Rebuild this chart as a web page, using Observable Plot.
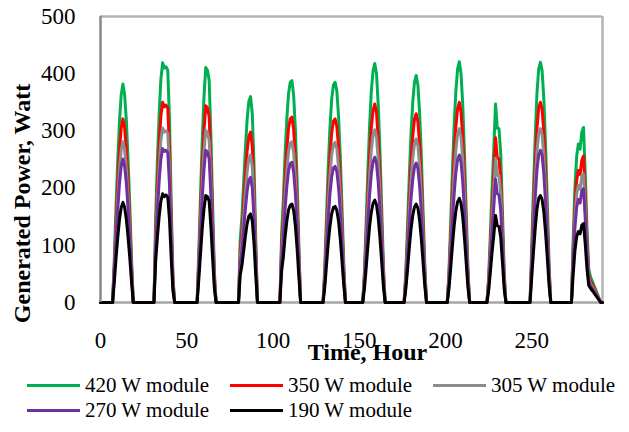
<!DOCTYPE html>
<html><head><meta charset="utf-8">
<script src="https://cdn.jsdelivr.net/npm/d3@7"></script>
<script src="https://cdn.jsdelivr.net/npm/@observablehq/plot@0.6"></script>
<style>
body{margin:0;background:#fff;}
#chart{width:629px;height:432px;position:relative;font-family:'Liberation Serif','Times New Roman',serif;background:#fff;}
#legend{position:relative;width:629px;height:70px;}
.item{position:absolute;display:flex;align-items:center;height:26px;font-size:21px;color:#000;white-space:nowrap;font-family:'Liberation Serif','Times New Roman',serif;}
.sw{width:53px;height:3px;margin-right:5px;}
</style></head>
<body><div id="chart"></div>
<script>
const seriesNames = ["420 W module","350 W module","305 W module","270 W module","190 W module"];
const seriesColors = ["#00b050","#ff0000","#8c8c8c","#7030a0","#000000"];
const xTicks = [0,50,100,150,200,250];
const yTicks = [0,100,200,300,400,500];
const firstHour = 0, lastHour = 291;
// hour of the zero before sunrise and the zero after sunset, per day
const dayStart = [7,31,56,80,104,129,152,176,201,224,249,273];
const dayEnd   = [19,43,67,91,116,142,165,189,214,235,261,290];

const w420 = [
 [76,168,248,317,363,382,363,317,248,168,76],
 [150,250,330,390,419,410,412,406,320,170,45],
 [90,190,285,360,411,406,388,290,170,55],
 [110,150,210,270,320,352,360,330,240,110],
 [120,180,260,320,365,385,388,360,300,210,100],
 [60,150,235,305,355,380,385,370,325,255,165,70],
 [55,140,230,310,370,405,418,400,345,265,165,65],
 [55,135,220,295,350,385,397,380,330,255,160,65],
 [55,140,230,310,370,408,421,400,345,260,160,60],
 [45,120,200,270,347,305,304,260,160,55],
 [100,200,290,365,408,420,405,355,275,175,70],
 [110,200,255,277,268,298,306,225,130,60,45,38]
];
const w350 = [
 [64,141,209,266,305,321,305,266,209,141,64],
 [125,209,276,326,350,342,345,340,268,142,38],
 [75,159,239,301,344,340,325,243,142,46],
 [91,124,174,224,265,291,298,273,199,91],
 [100,150,217,267,305,321,324,301,250,175,84],
 [50,125,196,254,296,317,321,308,271,213,138,58],
 [46,116,191,257,307,336,347,332,286,220,137,54],
 [46,112,183,245,291,320,330,316,274,212,133,54],
 [46,116,191,258,308,339,350,333,287,216,133,50],
 [37,100,166,224,288,253,251,215,132,45],
 [83,167,242,304,340,350,338,296,229,146,58],
 [92,167,213,231,224,249,256,188,109,50,38,32]
];
const w305 = [
 [56,124,183,233,267,281,267,233,183,124,56],
 [109,182,240,284,305,298,300,296,233,124,33],
 [66,139,209,264,301,297,284,212,124,40],
 [79,108,150,193,229,252,258,236,172,79],
 [87,130,188,232,264,279,281,261,217,152,72],
 [44,109,171,222,258,276,280,269,236,185,120,51],
 [40,101,166,224,267,293,302,289,249,191,119,47],
 [40,97,158,213,252,277,286,274,238,184,115,47],
 [40,101,166,224,267,295,304,289,249,188,116,43],
 [33,88,146,197,252,222,222,190,117,40],
 [72,145,210,264,295,304,293,257,199,127,51],
 [81,148,189,205,198,220,225,166,96,44,33,28]
];
const w270 = [
 [50,110,163,208,238,251,238,208,163,110,50],
 [96,160,212,250,269,264,266,262,206,109,29],
 [58,123,184,233,266,263,251,188,110,36],
 [67,91,128,164,195,214,219,200,146,67],
 [76,114,164,202,230,243,245,227,189,133,63],
 [37,93,145,189,219,235,238,229,201,158,102,43],
 [33,85,140,188,225,246,254,243,210,161,100,40],
 [34,83,135,181,215,237,244,234,203,157,98,40],
 [34,86,141,190,227,250,258,245,211,159,98,37],
 [28,75,124,168,216,190,188,161,99,34],
 [63,127,184,231,258,266,257,225,174,111,44],
 [71,130,166,180,174,195,199,147,85,39,29,25]
];
const w190 = [
 [35,77,114,145,166,175,166,145,114,77,35],
 [73,115,150,177,190,185,188,184,145,77,20],
 [41,86,130,164,187,185,177,132,77,25],
 [48,65,90,116,138,151,155,142,103,47],
 [55,80,115,142,162,170,172,160,133,93,44],
 [26,65,103,133,155,166,168,161,142,111,72,31],
 [24,60,99,133,158,173,179,171,148,113,71,28],
 [24,58,95,128,152,167,172,165,143,110,69,28],
 [24,60,99,134,160,176,182,173,149,112,69,26],
 [20,53,88,118,152,134,133,114,70,24],
 [45,89,129,163,182,187,180,158,122,78,31],
 [49,90,115,124,120,135,138,102,59,30,25,21]
];
const seriesValues = [w420, w350, w305, w270, w190];

function build(name, days) {
  const rows = [{x: firstHour, y: 0, s: name}];
  days.forEach((vals, d) => {
    rows.push({x: dayStart[d], y: 0, s: name});
    vals.forEach((v, i) => rows.push({x: dayStart[d] + 1 + i, y: v, s: name}));
    rows.push({x: dayEnd[d], y: 0, s: name});
  });
  rows.push({x: lastHour, y: 0, s: name});
  return rows;
}

const lineMarks = seriesNames.map((name, k) =>
  Plot.line(build(name, seriesValues[k]), {x: "x", y: "y", stroke: seriesColors[k], strokeWidth: 3, strokeLinejoin: "round"})
);

const chart = Plot.plot({
  width: 629, height: 362,
  marginLeft: 100, marginRight: 27, marginTop: 16, marginBottom: 60,
  style: {fontFamily: "'Liberation Serif','Times New Roman',serif", fontSize: "23px", color: "#000", background: "#fff", overflow: "visible"},
  x: {domain: [firstHour, lastHour], ticks: xTicks, tickSize: 0, tickPadding: 29, label: null},
  y: {domain: [0, 500], ticks: yTicks, tickSize: 0, tickPadding: 25, label: null},
  marks: [
    Plot.ruleY([500], {stroke: "#b4b4b4", strokeWidth: 2.5}),
    Plot.ruleX([lastHour], {stroke: "#b4b4b4", strokeWidth: 2.5}),
    Plot.ruleY([0], {stroke: "#a6a6a6", strokeWidth: 2.5}),
    ...lineMarks,
    Plot.ruleX([firstHour], {stroke: "#888888", strokeWidth: 2.5}),
    Plot.text(["Time, Hour"], {frameAnchor: "bottom", textAnchor: "middle", dx: 16, dy: 50, lineAnchor: "middle", fontWeight: "bold", fontSize: 24, fill: "#000"}),
    Plot.text(["Generated Power, Watt"], {frameAnchor: "left", textAnchor: "middle", rotate: -90, dx: -78, dy: 44, lineAnchor: "middle", fontWeight: "bold", fontSize: 24, fill: "#000"})
  ]
});

const root = document.getElementById("chart");
root.appendChild(chart);
const legend = document.createElement("div");
legend.id = "legend";
const lefts = [27, 230, 433];
seriesNames.forEach((name, k) => {
  const it = document.createElement("div");
  it.className = "item";
  it.style.left = lefts[k % 3] + "px";
  it.style.top = (k < 3 ? 10 : 35) + "px";
  const sw = document.createElement("span");
  sw.className = "sw";
  sw.style.background = seriesColors[k];
  const tx = document.createElement("span");
  tx.textContent = name;
  it.appendChild(sw); it.appendChild(tx);
  legend.appendChild(it);
});
root.appendChild(legend);
</script>
</body></html>
